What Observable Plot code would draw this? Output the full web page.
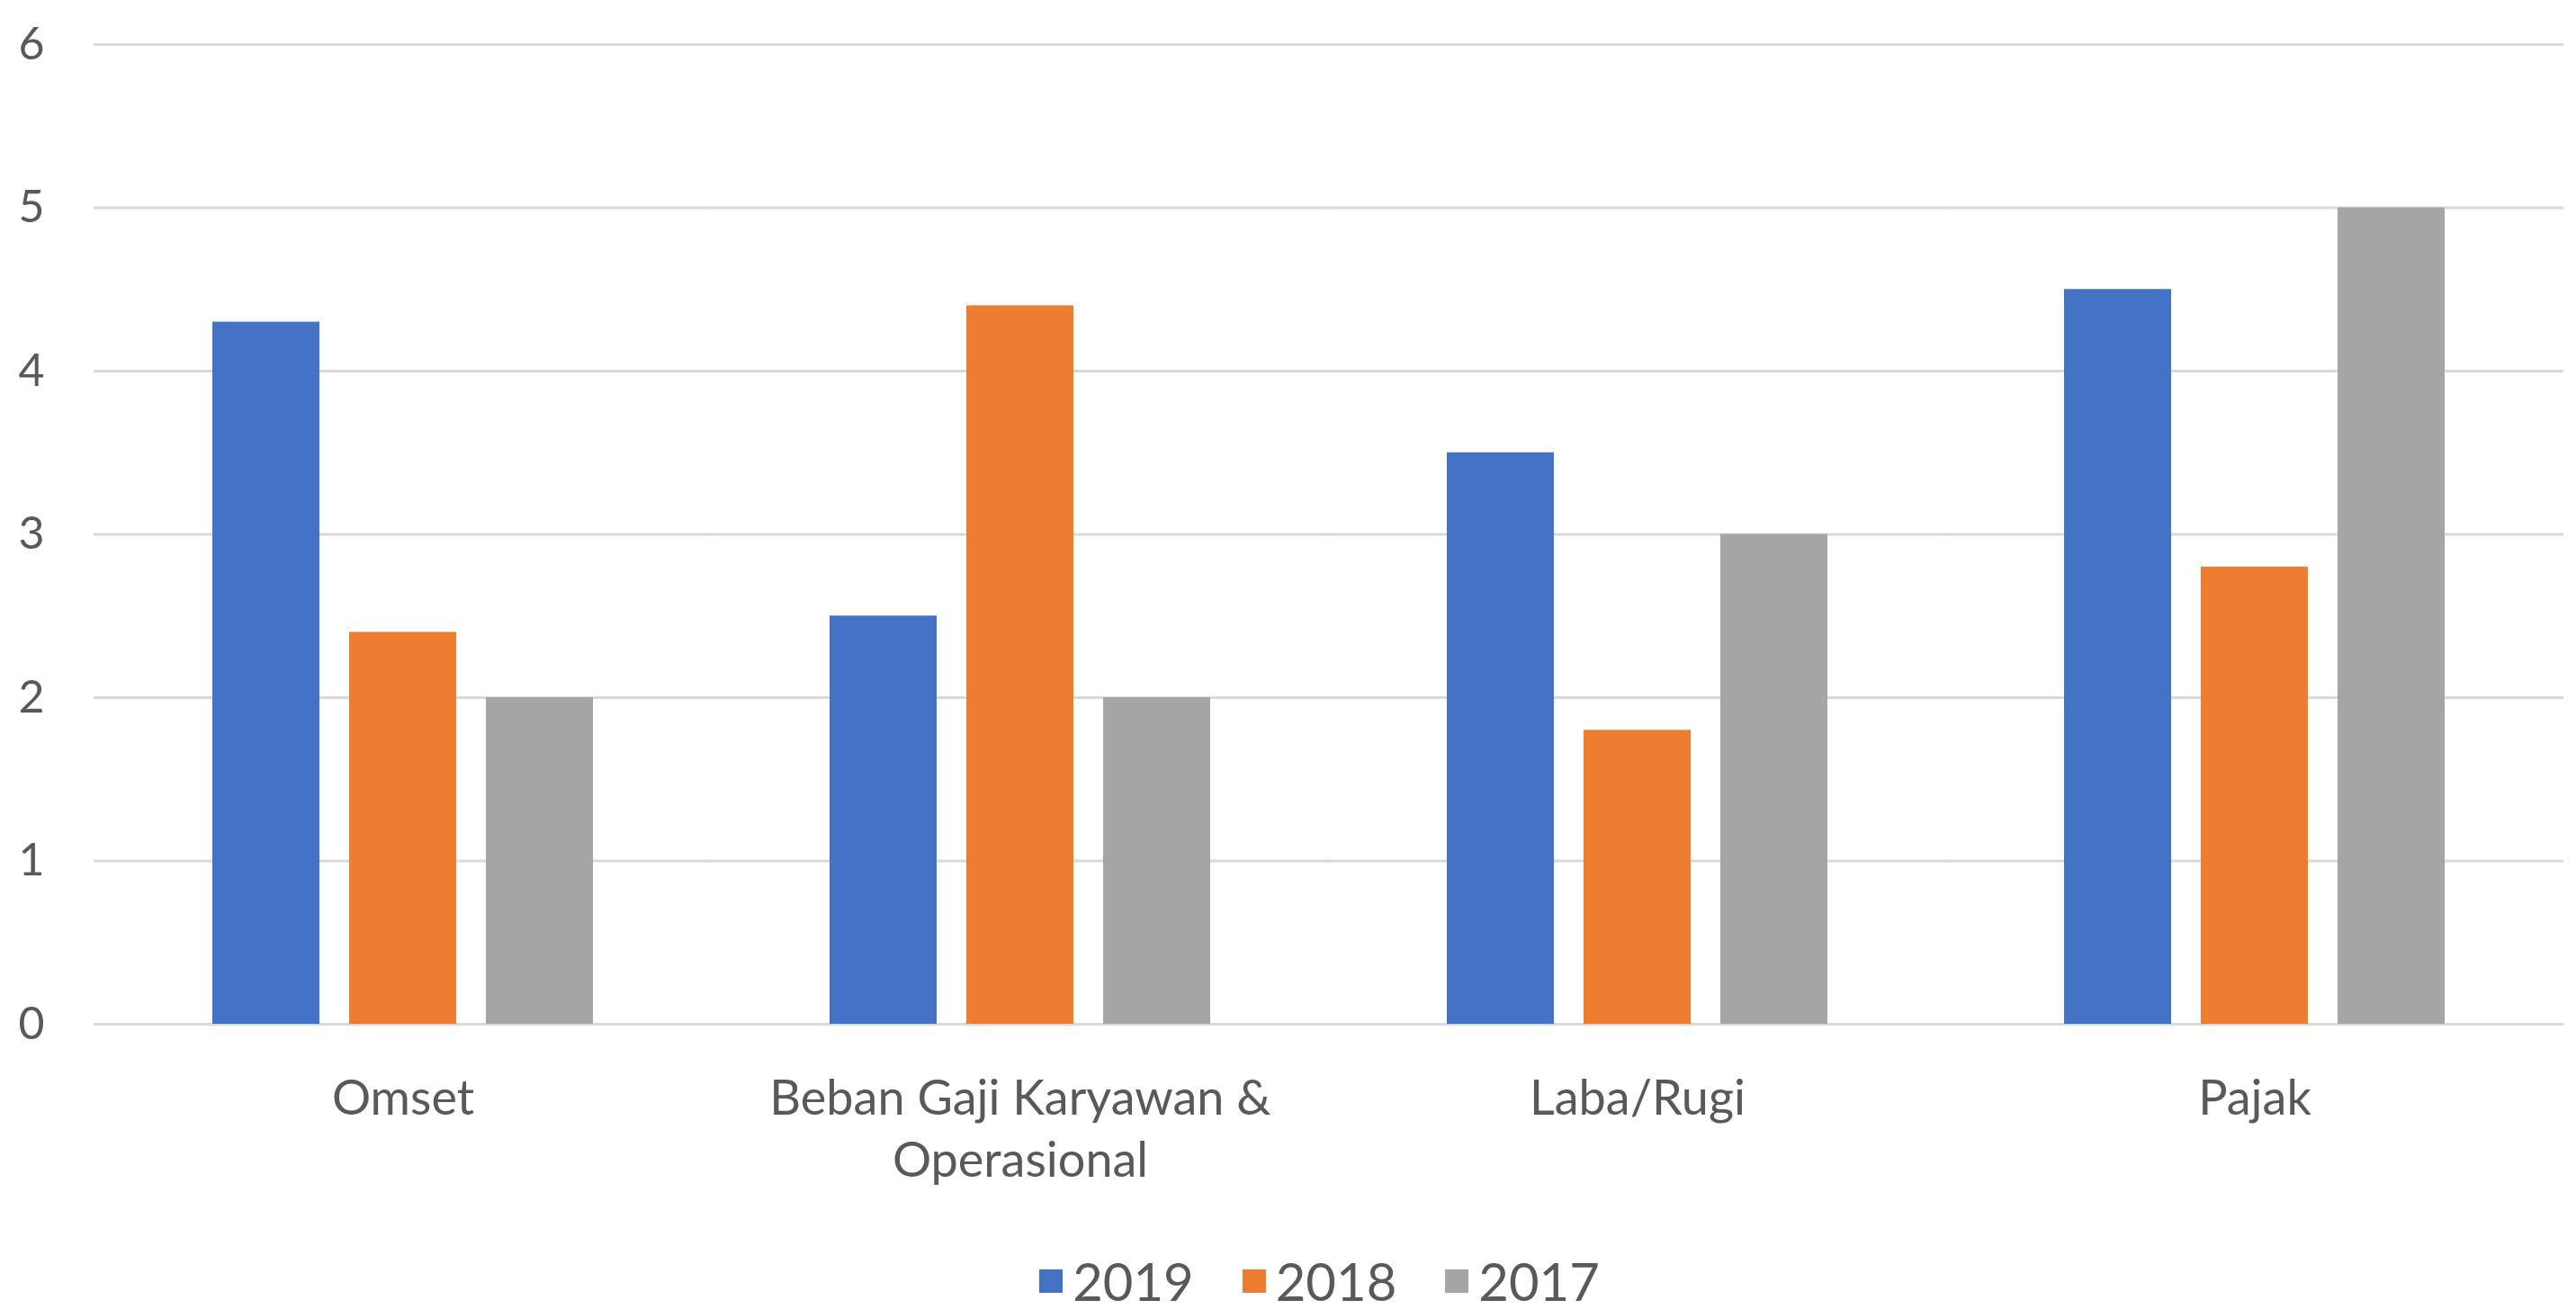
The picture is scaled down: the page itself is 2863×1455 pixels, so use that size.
<!DOCTYPE html>
<html><head><meta charset="utf-8">
<script src="https://cdn.jsdelivr.net/npm/d3@7"></script>
<script src="https://cdn.jsdelivr.net/npm/@observablehq/plot@0.6"></script>
<style>
body{margin:0;background:#fff;font-family:Lato,sans-serif;}
#legend{display:flex;justify-content:center;align-items:center;gap:54px;font-size:58px;line-height:72px;color:#595959;padding-left:70px;margin-top:18px;}
.item{display:flex;align-items:center;gap:11px}
.sw{width:26px;height:26px;display:inline-block}
</style></head><body><div id="chart"></div><div id="legend"></div>
<script>
const categories = ["Omset","Beban Gaji Karyawan & Operasional","Laba/Rugi","Pajak"];
const categoryLabels = ["Omset","Beban Gaji Karyawan &\nOperasional","Laba/Rugi","Pajak"];
const years = ["2019","2018","2017"];
const values2019 = [4.3,2.5,3.5,4.5];
const values2018 = [2.4,4.4,1.8,2.8];
const values2017 = [2.0,2.0,3.0,5.0];
const yTicks = [0,1,2,3,4,5,6];
const colors = ["#4472C4","#ED7D31","#A5A5A5"];
const seriesValues = [values2019, values2018, values2017];
const data = [];
categories.forEach((c,i)=> years.forEach((y,j)=> data.push({category:c, year:y, value: seriesValues[j][i]})));
const plot = Plot.plot({
  width: 2863, height: 1370, marginTop: 49, marginBottom: 232, marginLeft: 104, marginRight: 13,
  style: {fontFamily: "Lato, sans-serif", background: "#fff", color: "#595959"},
  fx: {domain: categories, paddingInner: 0.38, paddingOuter: 0.19, label: null},
  x: {domain: years, paddingInner: 0.214, paddingOuter: 0, axis: null},
  y: {domain: [0,6], label: null},
  color: {domain: years, range: colors},
  marks: [
    Plot.ruleY(yTicks, {stroke:"#d9d9d9", strokeWidth: 3, insetLeft: -131, insetRight: -131}),
    Plot.barY(data, {fx:"category", x:"year", y:"value", fill:"year"}),
    Plot.axisY({ticks: yTicks, tickSize: 0, tickPadding: 186, fontSize: 50, tickFormat: d3.format("d")}),
    Plot.axisFx({anchor: "bottom", tickSize: 0, tickPadding: 51, fontSize: 54, lineHeight: 1.28, tickFormat: d => categoryLabels[categories.indexOf(d)]})
  ]
});
document.getElementById("chart").appendChild(plot);
const color = plot.scale("color");
const legend = document.getElementById("legend");
color.domain.forEach((y,i) => {
  const it = document.createElement("div"); it.className = "item";
  const sw = document.createElement("span"); sw.className = "sw"; sw.style.background = color.range[i];
  const t = document.createElement("span"); t.textContent = y;
  it.appendChild(sw); it.appendChild(t); legend.appendChild(it);
});
</script></body></html>
